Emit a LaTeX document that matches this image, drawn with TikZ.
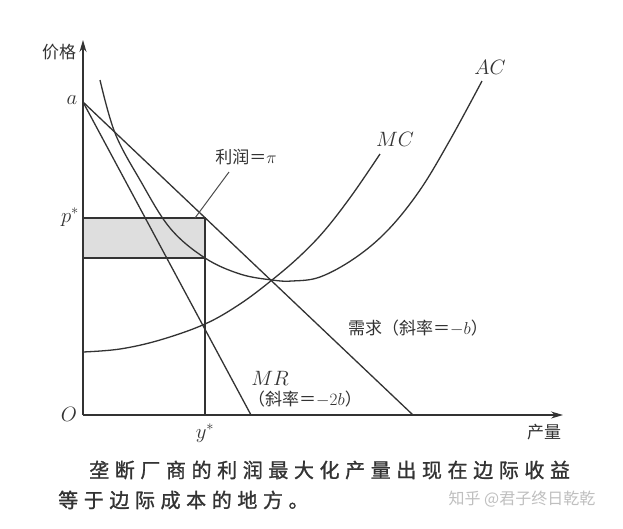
\documentclass[tikz,border=0pt]{standalone}
\usepackage{fontspec}
\newfontfamily\cjk{Noto Sans CJK SC}
\newfontfamily\cjkcap[FakeBold=1.2]{Noto Sans CJK SC}
\usetikzlibrary{arrows.meta}
\begin{document}
\begin{tikzpicture}[x=1pt,y=-1pt,
  curve/.style={draw=black!80,line width=1.3pt},
  axis/.style={draw=black!80,line width=1.3pt,-{Stealth[length=12pt,width=7pt]}},
  lbl/.style={inner sep=0pt,text=black!80},
  cj/.style={lbl,font=\cjk\fontsize{17}{17}\selectfont},
  mth/.style={lbl,font=\fontsize{20}{20}\selectfont},
  captext/.style={lbl,anchor=west,font=\cjkcap\fontsize{20}{20}\selectfont\addfontfeature{LetterSpace=28}}]
\useasboundingbox[fill=white] (0,0) rectangle (623,528);
% key points
\coordinate (O) at (83,415);
\coordinate (A) at (83,102);
\coordinate (Ytop) at (83,40);
\coordinate (Xend) at (563,415);
\coordinate (Dx) at (413,415);
\coordinate (MRx) at (251,415);
\coordinate (Ps) at (83,218);
\coordinate (Pb) at (83,258);
\coordinate (Bs) at (205,218);
\coordinate (Bb) at (205,258);
\coordinate (Ys) at (205,415);
% profit box
\fill[black!13] (Ps) rectangle (Bb);
% axes
\draw[axis] (O) -- (Ytop);
\draw[axis] (O) -- (Xend);
% demand and MR
\draw[curve] (A) -- (Dx);
\draw[curve] (A) -- (MRx);
% box and y*
\draw[curve] (Ps) -- (Bs) -- (Ys);
\draw[curve] (Pb) -- (Bb);
% MC
\draw[curve] plot[smooth,tension=0.6] coordinates {(83,352) (120,349) (160,340) (205,324) (240,304) (272,280) (300,256) (325,230) (352,195) (380,154)};
% AC
\draw[curve] plot[smooth,tension=0.6] coordinates {(100,80) (115,133) (140,180) (170,228) (205,258) (240,274) (272,280) (292,281) (320,277) (355,258) (388,230) (420,190) (450,140) (482,81)};
% labels
\node[cj] (lp) at (59,52) {价格};
\node[cj] (lq) at (544,432) {产量};
\node[mth] (la) at (72,100) {$a$};
\node[mth] (lps) at (70,217) {$p^{*}$};
\node[mth] (lO) at (69,414) {$O$};
\node[mth] (lys) at (205,433) {$y^{*}$};
\node[mth] (lmc) at (395,139) {$MC$};
\node[mth] (lac) at (490,67) {$AC$};
\node[cj] (lpi) at (246,157) {利润＝{\fontsize{19}{19}\selectfont$\pi$}};
\coordinate (lead) at (229,172);
\coordinate (leadend) at (195,218);
\draw[draw=black!70,line width=1pt] (lead) -- (leadend);
\node[cj] (ld) at (418,328) {需求（斜率＝{\fontsize{19}{19}\selectfont$-b$}）};
\node[mth] (lmr) at (270,378) {$MR$};
\node[cj,anchor=west] (lmr2) at (248,399) {（斜率＝{\fontsize{19}{19}\selectfont$-2b$}）};
% caption
\node[captext] (c1) at (89,470) {垄断厂商的利润最大化产量出现在边际收益};
\node[captext] (c2) at (58,500) {等于边际成本的地方。};
\node[inner sep=0pt,text=black!25,font=\cjk\fontsize{16}{16}\selectfont] (wm) at (522,499) {知乎 @君子终日乾乾};
\end{tikzpicture}
\end{document}
